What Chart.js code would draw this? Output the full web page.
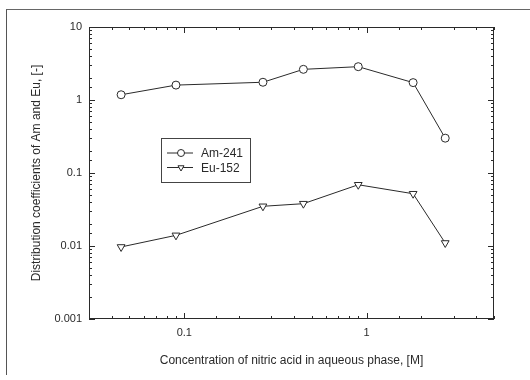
<!DOCTYPE html>
<html lang="en">
<head>
    <meta charset="UTF-8">
    <title>Distribution coefficients of Am and Eu</title>
    <script src="https://cdn.jsdelivr.net/npm/chart.js"></script>
    <style>
        body { margin: 0; background: #fff; }
        .frame { position: relative; width: 530px; height: 380px; }
        .frame:before { content: ''; position: absolute; left: 6px; top: 9px; right: 0; bottom: 5px; border-top: 1px solid #666; border-left: 1px solid #555; pointer-events: none; }
    </style>
</head>
<body>
    <div class="frame">
        <canvas id="kdChart" width="530" height="380"></canvas>
    </div>

    <script>
        // nitric acid concentration, M
        const acid = [0.045, 0.09, 0.27, 0.45, 0.9, 1.8, 2.7];
        const am241 = [1.18, 1.6, 1.75, 2.63, 2.86, 1.73, 0.30];
        const eu152 = [0.0097, 0.014, 0.035, 0.038, 0.069, 0.052, 0.011];
        const seriesNames = ['Am-241', 'Eu-152'];
        const xTickLabels = ['0.1', '1'];
        const yTickLabels = ['0.001', '0.01', '0.1', '1', '10'];

        const ink = '#2a2a2a';
        const font = "'Liberation Sans', Arial, sans-serif";

        function pts(ys) { return acid.map((x, i) => ({ x: x, y: ys[i] })); }

        function isDecade(v) {
            const l = Math.log10(v);
            return Math.abs(l - Math.round(l)) < 1e-6;
        }

        // inward ticks on all four sides, box, and the legend inside the plot
        const frameAndLegend = {
            id: 'frameAndLegend',
            afterDraw(chart) {
                const c = chart.ctx, a = chart.chartArea;
                const xs = chart.scales.x, ys = chart.scales.y;
                c.save();
                c.strokeStyle = ink;
                c.lineWidth = 1;
                c.strokeRect(a.left + 0.5, a.top + 0.5, a.right - a.left - 1, a.bottom - a.top - 1);
                c.beginPath();
                xs.ticks.forEach(t => {
                    const px = Math.round(xs.getPixelForValue(t.value)) + 0.5;
                    const len = isDecade(t.value) ? 6 : 3;
                    c.moveTo(px, a.bottom); c.lineTo(px, a.bottom - len);
                    c.moveTo(px, a.top); c.lineTo(px, a.top + len);
                });
                ys.ticks.forEach(t => {
                    const py = Math.round(ys.getPixelForValue(t.value)) + 0.5;
                    const len = isDecade(t.value) ? 6 : 3;
                    c.moveTo(a.left, py); c.lineTo(a.left + len, py);
                    c.moveTo(a.right, py); c.lineTo(a.right - len, py);
                });
                c.stroke();

                // legend box
                const bx = a.left + 72, by = a.top + 111, bw = 89, bh = 44;
                c.strokeStyle = '#444';
                c.strokeRect(bx + 0.5, by + 0.5, bw, bh);
                c.font = '12px ' + font;
                c.textBaseline = 'middle';
                chart.data.datasets.forEach((ds, i) => {
                    const ry = by + 15 + i * 14.5;
                    c.strokeStyle = ink;
                    c.beginPath();
                    c.moveTo(bx + 6, ry); c.lineTo(bx + 32, ry);
                    c.stroke();
                    c.fillStyle = '#fff';
                    Chart.helpers.drawPoint(c, {
                        pointStyle: ds.pointStyle,
                        radius: 3.5,
                        rotation: ds.pointRotation || 0,
                        borderWidth: 1
                    }, bx + 20, ry);
                    c.fillStyle = ink;
                    c.fillText(ds.label, bx + 40, ry + 1);
                });
                c.restore();
            }
        };

        new Chart(document.getElementById('kdChart'), {
            type: 'line',
            data: {
                datasets: [
                    {
                        label: seriesNames[0],
                        data: pts(am241),
                        borderColor: ink,
                        borderWidth: 1,
                        pointStyle: 'circle',
                        pointRadius: 4,
                        pointBackgroundColor: '#fff',
                        pointBorderColor: ink,
                        pointBorderWidth: 1
                    },
                    {
                        label: seriesNames[1],
                        data: pts(eu152),
                        borderColor: ink,
                        borderWidth: 1,
                        pointStyle: 'triangle',
                        pointRotation: 180,
                        pointRadius: 4.5,
                        pointBackgroundColor: '#fff',
                        pointBorderColor: ink,
                        pointBorderWidth: 1
                    }
                ]
            },
            options: {
                responsive: false,
                animation: false,
                layout: { padding: { left: 0, top: 27, right: 36, bottom: 0 } },
                plugins: { legend: { display: false }, tooltip: { enabled: false } },
                scales: {
                    x: {
                        type: 'logarithmic',
                        min: 0.03,
                        max: 5,
                        afterFit(s) { s.height = 61; },
                        grid: { display: false, drawTicks: false },
                        border: { display: false },
                        ticks: {
                            autoSkip: false,
                            maxRotation: 0,
                            padding: 7,
                            color: ink,
                            font: { family: font, size: 11 },
                            callback: v => (isDecade(v) && xTickLabels.includes(String(v))) ? String(v) : ''
                        },
                        title: {
                            display: true,
                            text: 'Concentration of nitric acid in aqueous phase, [M]',
                            color: ink,
                            font: { family: font, size: 12 },
                            padding: { top: 0, bottom: 12 }
                        }
                    },
                    y: {
                        type: 'logarithmic',
                        min: 0.001,
                        max: 10,
                        afterFit(s) { s.width = 89; },
                        grid: { display: false, drawTicks: false },
                        border: { display: false },
                        ticks: {
                            autoSkip: false,
                            padding: 7,
                            color: ink,
                            font: { family: font, size: 11 },
                            callback: v => (isDecade(v) && yTickLabels.includes(String(v))) ? String(v) : ''
                        },
                        title: {
                            display: true,
                            text: 'Distribution coefficients of Am and Eu, [-]',
                            color: ink,
                            font: { family: font, size: 12 },
                            padding: { top: 29, bottom: 0 }
                        }
                    }
                }
            },
            plugins: [frameAndLegend]
        });
    </script>
</body>
</html>
